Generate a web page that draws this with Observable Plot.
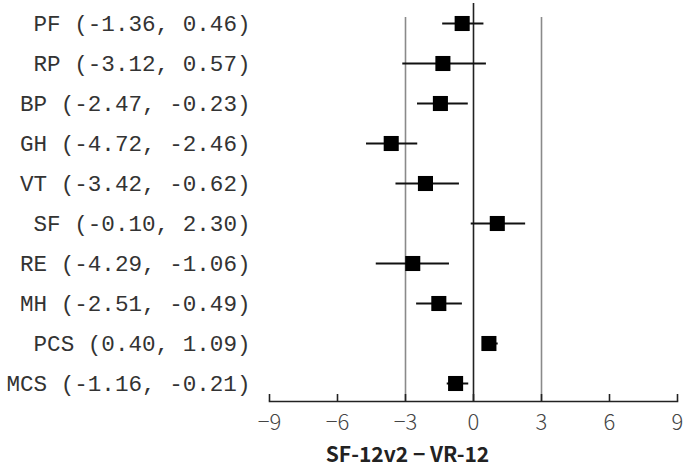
<!DOCTYPE html>
<html>
<head>
<meta charset="utf-8">
<script src="https://cdn.jsdelivr.net/npm/d3@7"></script>
<script src="https://cdn.jsdelivr.net/npm/@observablehq/plot@0.6"></script>
<style>
  html, body { margin: 0; padding: 0; background: #fff; }
  #chart svg { display: block; }
</style>
</head>
<body>
<div id="chart"></div>
<script>
const names = ["PF", "RP", "BP", "GH", "VT", "SF", "RE", "MH", "PCS", "MCS"];
const lower = [-1.36, -3.12, -2.47, -4.72, -3.42, -0.10, -4.29, -2.51, 0.40, -1.16];
const upper = [0.46, 0.57, -0.23, -2.46, -0.62, 2.30, -1.06, -0.49, 1.09, -0.21];
const estimate = [-0.50, -1.35, -1.46, -3.63, -2.12, 1.05, -2.68, -1.53, 0.68, -0.79];
const xTicks = [-9, -6, -3, 0, 3, 6, 9];
const refLines = [-3, 3];
const axisTitle = "SF-12v2 − VR-12";

const rows = names.map((n, i) => ({
  name: n, lo: lower[i], hi: upper[i], est: estimate[i],
  label: `${n} (${lower[i].toFixed(2)}, ${upper[i].toFixed(2)})`
}));

const chart = Plot.plot({
  width: 685,
  height: 470,
  marginLeft: 269,
  marginRight: 8,
  marginTop: 3,
  marginBottom: 69,
  style: { background: "#fff", fontFamily: "'Noto Sans CJK JP', sans-serif" },
  x: { domain: [-9, 9], axis: null },
  y: { type: "point", domain: names, range: [22.5, 383], padding: 0, axis: null },
  marks: [
    Plot.ruleX(refLines, { stroke: "#8a8a8a", strokeWidth: 1.6, insetTop: 14 }),
    Plot.ruleX([0], { stroke: "#222", strokeWidth: 1.6 }),
    Plot.frame({ anchor: "bottom", stroke: "#222", strokeWidth: 1.6 }),
    Plot.axisX({ ticks: xTicks, tickSize: -7, tickFormat: () => "", stroke: "#222", strokeWidth: 1.6 }),
    Plot.axisX({ ticks: xTicks, tickSize: 0, tickPadding: 13, fontSize: 22, fill: "#444", fontFamily: "'Noto Sans CJK JP', sans-serif", fontWeight: 300, label: null }),
    Plot.ruleY(rows, { y: "name", x1: "lo", x2: "hi", stroke: "#111", strokeWidth: 2 }),
    Plot.dot(rows, { x: "est", y: "name", symbol: "square", r: 8.5, fill: "#000", stroke: "none" }),
    Plot.text(rows, {
      y: "name", text: "label", frameAnchor: "left", textAnchor: "end", dx: -19,
      fontFamily: "'Liberation Mono', 'Courier New', monospace", fontSize: 22.6, fill: "#333"
    }),
    Plot.text([axisTitle], {
      frameAnchor: "bottom", dx: -66, dy: 54, lineAnchor: "middle",
      fontSize: 21, fontWeight: 600, fill: "#222", letterSpacing: "0.5px",
      fontFamily: "'Noto Sans CJK JP', sans-serif"
    })
  ]
});
document.getElementById("chart").append(chart);
</script>
</body>
</html>
